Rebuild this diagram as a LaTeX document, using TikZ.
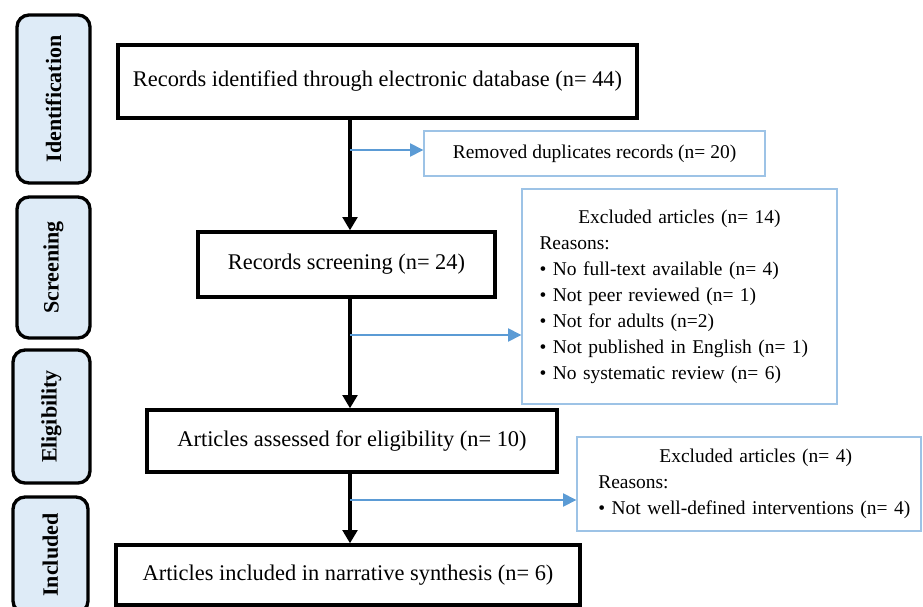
\documentclass[tikz,border=0pt]{standalone}
\usepackage{fontspec}
\setmainfont{Liberation Serif}
\usetikzlibrary{arrows.meta}
\definecolor{stagefill}{HTML}{DEEBF7}
\definecolor{sideline}{HTML}{9DC3E6}
\definecolor{sidearrow}{HTML}{5B9BD5}
\tikzset{
  stage/.style={draw=black, line width=2.5pt, rounded corners=9pt, fill=stagefill, rotate=90, inner sep=0pt, font=\fontsize{16.5}{18}\selectfont\bfseries},
  mainbox/.style={draw=black, line width=2.5pt, inner sep=0pt, font=\fontsize{16.8}{19}\selectfont},
  sidebox/.style={draw=sideline, line width=1pt, inner sep=0pt, font=\fontsize{14.6}{19.5}\selectfont},
  flow/.style={line width=2.6pt, -{Triangle[length=10pt,width=11pt]}},
  aside/.style={draw=sidearrow, line width=0.9pt, -{Triangle[length=10pt,width=10pt]}}
}
\begin{document}
\begin{tikzpicture}[x=0.75pt,y=-0.75pt]
    \useasboundingbox (0,0) rectangle (923,606);
    % phases on the left
    \node[stage, minimum width=126pt, minimum height=54.75pt] (ident) at (53.5,99) {Identification};
    \node[stage, minimum width=105.75pt, minimum height=54.75pt] (screen) at (53.5,267.5) {Screening};
    \node[stage, minimum width=99.75pt, minimum height=57.75pt] (elig) at (51.5,416.5) {Eligibility};
    \node[stage, minimum width=87pt, minimum height=56.25pt] (incl) at (50.5,555) {Included};

    % main flow
    \node[mainbox, minimum width=389.25pt, minimum height=54.75pt] (records) at (377.5,81.5) {Records identified through electronic database (n= 44)};
    \node[mainbox, minimum width=222.75pt, minimum height=48.75pt] (screened) at (346.5,264.5) {Records screening (n= 24)};
    \node[mainbox, minimum width=307.5pt, minimum height=46.5pt] (assessed) at (352,441) {Articles assessed for eligibility (n= 10)};
    \node[mainbox, minimum width=348pt, minimum height=45pt] (included) at (348,575) {Articles included in narrative synthesis (n= 6)};

    % exclusions
    \node[sidebox, minimum width=255.75pt, minimum height=33.75pt] (dupl) at (594.5,153.5) {Removed duplicates records (n= 20)};
    \node[sidebox, minimum width=236.25pt, minimum height=161.25pt, text width=210pt, align=left] (excl1) at (679.5,296.5)
        {\centerline{Excluded articles (n= 14)}\\
         Reasons:\\
         \textbullet\ No full-text available (n= 4)\\
         \textbullet\ Not peer reviewed (n= 1)\\
         \textbullet\ Not for adults (n=2)\\
         \textbullet\ Not published in English (n= 1)\\
         \textbullet\ No systematic review (n= 6)};
    \node[sidebox, minimum width=258pt, minimum height=70.5pt, text width=226pt, align=left] (excl2) at (749,484)
        {\centerline{\hspace{10pt}Excluded articles (n= 4)}\\
         Reasons:\\
         \mbox{\textbullet\ Not well-defined interventions (n= 4)}};

    \coordinate (spine) at (350,0);
    \coordinate (j1) at (350,150);
    \coordinate (j2) at (350,335);
    \coordinate (j3) at (350,500);

    \draw[flow] (records.south -| spine) -- (screened.north -| spine);
    \draw[flow] (screened.south -| spine) -- (assessed.north -| spine);
    \draw[flow] (assessed.south -| spine) -- (included.north -| spine);

    \draw[aside] (j1) -- (j1 -| dupl.west);
    \draw[aside] (j2) -- (j2 -| excl1.west);
    \draw[aside] (j3) -- (j3 -| excl2.west);
\end{tikzpicture}
\end{document}
